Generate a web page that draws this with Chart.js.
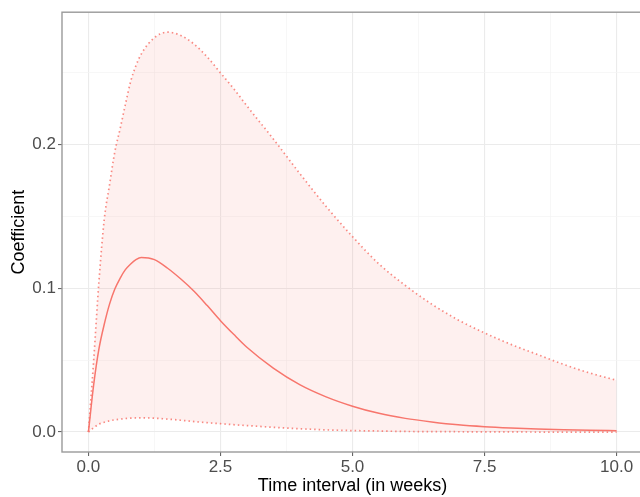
<!DOCTYPE html>
<html>
<head>
<meta charset="utf-8">
<script src="https://cdn.jsdelivr.net/npm/chart.js@4"></script>
<style>
  html, body { margin: 0; padding: 0; background: #fff; overflow: hidden; }
  #wrap { width: 640px; height: 497px; overflow: hidden; }
</style>
</head>
<body>
<div id="wrap"><canvas id="coefChart" width="643" height="497"></canvas></div>
<script>
// Time grid (weeks) shared by the estimate and its interval bounds.
const weeks = [0, 0.1, 0.2, 0.3, 0.4, 0.5, 0.6, 0.7, 0.8, 0.9, 1.0, 1.25, 1.5, 1.75, 2.0, 2.25,
  2.5, 2.75, 3.0, 3.5, 4.0, 4.5, 5.0, 5.5, 6.0, 6.5, 7.0, 7.5, 8.0, 8.5, 9.0, 9.5, 10];
const estimate = [0, 0.033, 0.058, 0.075, 0.089, 0.0995, 0.107, 0.113, 0.117, 0.120, 0.1215, 0.1200,
  0.114, 0.1065, 0.098, 0.088, 0.0775, 0.068, 0.059, 0.0445, 0.033, 0.0245, 0.018, 0.013, 0.0095,
  0.007, 0.005, 0.0037, 0.0028, 0.0021, 0.0016, 0.0012, 0.0009];
const upperBound = [0, 0.050, 0.105, 0.148, 0.172, 0.195, 0.211, 0.228, 0.244, 0.255, 0.263, 0.2745,
  0.2783, 0.276, 0.270, 0.261, 0.250, 0.239, 0.227, 0.204, 0.180, 0.157, 0.136, 0.117, 0.102,
  0.089, 0.078, 0.069, 0.061, 0.054, 0.047, 0.041, 0.036];
const lowerBound = [0, 0.003, 0.0055, 0.0068, 0.0078, 0.0085, 0.009, 0.0094, 0.0097, 0.0098, 0.0099,
  0.0096, 0.009, 0.0082, 0.0073, 0.0065, 0.0058, 0.0051, 0.0045, 0.0033, 0.0023, 0.0015, 0.001,
  0.0007, 0.0004, 0.0003, 0.0002, 0.0001, 0.0001, 0, 0, 0, 0];

// Major + minor break positions.
const xBreaks = [0, 1.25, 2.5, 3.75, 5, 6.25, 7.5, 8.75, 10];
const yBreaks = [0, 0.05, 0.1, 0.15, 0.2, 0.25];

const RED = '#F8766D';
const FONT = '"Liberation Sans", Arial, Helvetica, sans-serif';

const pts = (ys) => weeks.map((x, i) => ({ x, y: ys[i] }));
const isMajorX = (v) => Math.abs(v / 2.5 - Math.round(v / 2.5)) < 1e-6;
const isMajorY = (v) => Math.abs(v * 10 - Math.round(v * 10)) < 1e-6;

// panel border drawn on top of everything, like theme_bw
const panelBorder = {
  id: 'panelBorder',
  afterDraw(chart) {
    const { ctx, chartArea: a } = chart;
    ctx.save();
    ctx.strokeStyle = '#9a9a9a';
    ctx.lineWidth = 1.4;
    ctx.strokeRect(a.left, a.top, a.right - a.left, a.bottom - a.top);
    ctx.restore();
  },
};

function gridFor(isMajor) {
  return {
    color: (c) => (c.tick && isMajor(c.tick.value) ? '#EBEBEB' : '#F4F4F4'),
    lineWidth: (c) => (c.tick && isMajor(c.tick.value) ? 1.1 : 0.7),
    tickColor: (c) => (c.tick && isMajor(c.tick.value) ? '#666666' : 'rgba(0,0,0,0)'),
    tickLength: 4,
    tickWidth: 1.1,
    drawTicks: true,
  };
}

const bound = (ys, extra) => Object.assign({
  data: pts(ys),
  borderColor: 'rgba(248,118,109,0.85)',
  borderWidth: 1.7,
  borderDash: [1.5, 3],
  pointRadius: 0,
  cubicInterpolationMode: 'monotone',
}, extra);

new Chart(document.getElementById('coefChart').getContext('2d'), {
  type: 'line',
  data: {
    datasets: [
      bound(upperBound, { backgroundColor: 'rgba(248,118,109,0.11)', fill: { target: 1 } }),
      bound(lowerBound, { fill: false }),
      {
        data: pts(estimate),
        borderColor: RED,
        borderWidth: 1.5,
        fill: false,
        pointRadius: 0,
        cubicInterpolationMode: 'monotone',
      },
    ],
  },
  options: {
    responsive: false,
    animation: false,
    layout: { padding: { top: 9, right: 0, bottom: 0, left: 0 } },
    plugins: { legend: { display: false }, tooltip: { enabled: false } },
    scales: {
      x: {
        type: 'linear',
        min: -0.5,
        max: 10.5,
        afterFit: (s) => { s.height = 45; },
        afterBuildTicks: (s) => { s.ticks = xBreaks.map((value) => ({ value })); },
        grid: gridFor(isMajorX),
        border: { display: false },
        ticks: {
          autoSkip: false,
          maxRotation: 0,
          padding: 1,
          color: '#4D4D4D',
          font: { family: FONT, size: 17 },
          callback: (v) => (isMajorX(v) ? v.toFixed(1) : ''),
        },
        title: {
          display: true,
          text: 'Time interval (in weeks)',
          color: '#000',
          font: { family: FONT, size: 18 },
          padding: { top: 0, bottom: 0 },
        },
      },
      y: {
        type: 'linear',
        min: -0.0139,
        max: 0.2922,
        afterFit: (s) => { s.width = 62; },
        afterBuildTicks: (s) => { s.ticks = yBreaks.map((value) => ({ value })); },
        grid: gridFor(isMajorY),
        border: { display: false },
        ticks: {
          autoSkip: false,
          padding: 2,
          color: '#4D4D4D',
          font: { family: FONT, size: 17 },
          callback: (v) => (isMajorY(v) ? v.toFixed(1) : ''),
        },
        title: {
          display: true,
          text: 'Coefficient',
          color: '#000',
          font: { family: FONT, size: 18 },
          padding: { top: 8, bottom: 0 },
        },
      },
    },
  },
  plugins: [panelBorder],
});
</script>
</body>
</html>
